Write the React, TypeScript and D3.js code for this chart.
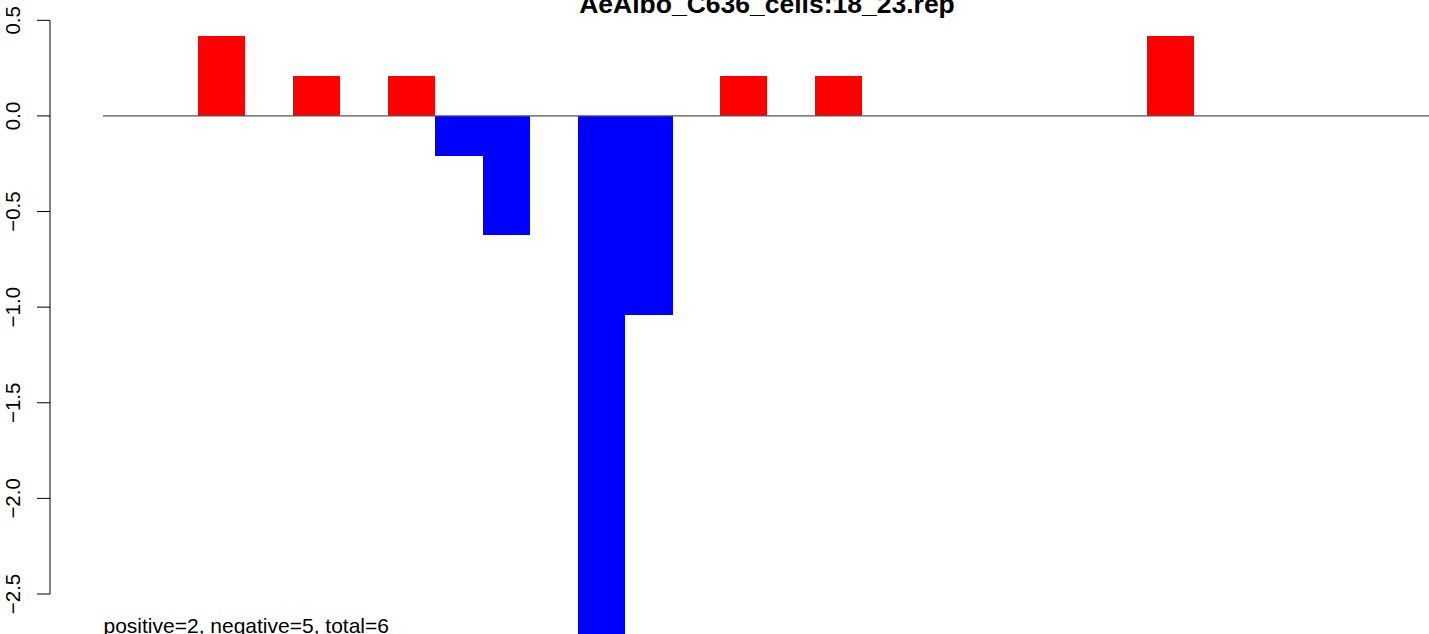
import * as d3 from 'd3';

// bar values, one per position (many are empty)
const positions = d3.range(1, 27).map(String);
const values = [
  0, 0.4167, 0, 0.2083, 0, 0.2083, -0.2083, -0.625, 0, -2.9167, -1.0417, 0, 0.2083,
  0, 0.2083, 0, 0, 0, 0, 0, 0, 0.4167, 0, 0, 0, 0,
];
const yTicks = [0.5, 0, -0.5, -1, -1.5, -2, -2.5];
const yTickLabels = ['0.5', '0.0', '\u22120.5', '\u22121.0', '\u22121.5', '\u22122.0', '\u22122.5'];
const title = 'AeAlbo_C636_cells:18_23.rep';
const note = 'positive=2, negative=5, total=6';

const W = 1429;
const H = 634;

export default function App() {
  const x = d3
    .scaleBand<string>()
    .domain(positions)
    .range([150.55, 150.55 + 26 * 47.45])
    .padding(0);
  const y = d3.scaleLinear().domain([0.5, -2.5]).range([20.3, 594]);
  const font = '"Liberation Sans", Arial, Helvetica, sans-serif';

  return (
    <svg
      width={W}
      height={H}
      style={{ position: 'absolute', left: 0, top: 0, display: 'block', background: '#fff' }}
      fontFamily={font}
    >
      {/* bars */}
      {values.map((v, i) =>
        v === 0 ? null : (
          <rect
            key={i}
            x={x(positions[i])!}
            y={Math.min(y(v), y(0))}
            width={x.bandwidth()}
            height={Math.abs(y(v) - y(0))}
            fill={v > 0 ? '#ff0000' : '#0000ff'}
            shapeRendering="crispEdges"
          />
        )
      )}

      {/* zero line */}
      <line x1={103} x2={W} y1={y(0)} y2={y(0)} stroke="#555" strokeWidth={1.2} />

      {/* y axis */}
      <line x1={50} x2={50} y1={y(0.5)} y2={y(-2.5)} stroke="#000" strokeWidth={1} />
      {yTicks.map((t, i) => (
        <g key={t}>
          <line x1={37} x2={50} y1={y(t)} y2={y(t)} stroke="#000" strokeWidth={1} />
          <text
            transform={`translate(20,${y(t)}) rotate(-90)`}
            textAnchor="middle"
            fontSize={20.5}
            fill="#000"
          >
            {yTickLabels[i]}
          </text>
        </g>
      ))}

      {/* title */}
      <text x={767} y={13} textAnchor="middle" fontWeight="bold" fontSize={26.5} fill="#000">
        {title}
      </text>

      {/* summary */}
      <text x={103.5} y={633} fontSize={21} fill="#000">
        {note}
      </text>
    </svg>
  );
}
